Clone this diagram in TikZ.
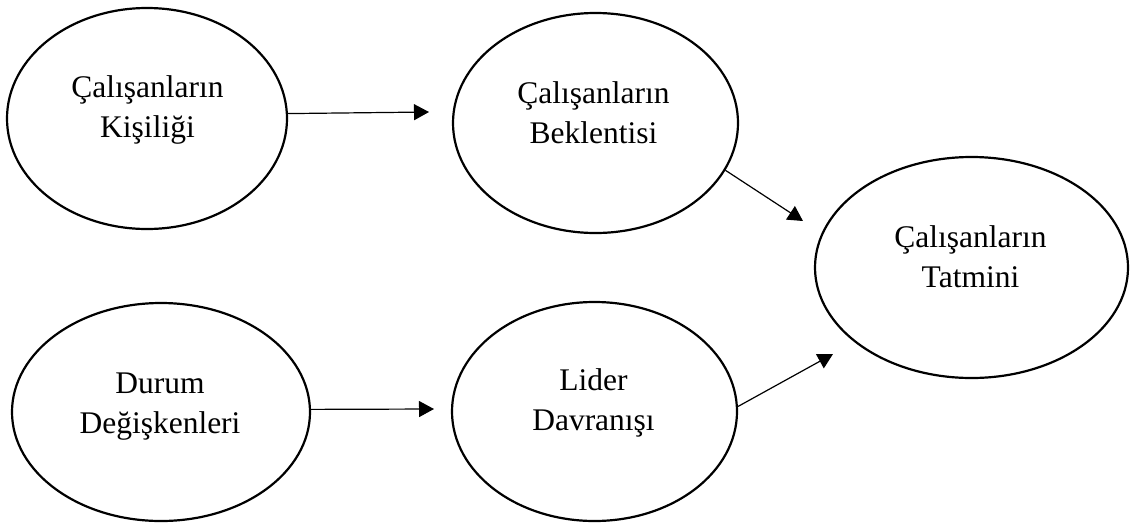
\documentclass[tikz,border=0pt]{standalone}
\usepackage{fontspec}
\setmainfont{Liberation Serif}
\usetikzlibrary{shapes.geometric,arrows.meta}
\begin{document}
\begin{tikzpicture}[x=1pt,y=-1pt,
  oval/.style={draw,ellipse,line width=2.2pt,inner sep=0pt},
  lbl/.style={align=center,anchor=base,inner sep=0pt,font=\fontsize{31.5}{40}\selectfont},
  link/.style={line width=1.2pt,-{Triangle[length=15pt,width=16pt]}}]
\useasboundingbox (0,0) rectangle (1132,528);
% ellipses
\node[oval,minimum width=280pt,minimum height=221pt] (k) at (147,118.5) {};
\node[oval,minimum width=285pt,minimum height=220pt] (b) at (595.5,123) {};
\node[oval,minimum width=313pt,minimum height=221pt] (t) at (971.5,267.5) {};
\node[oval,minimum width=298pt,minimum height=218pt] (d) at (161,412) {};
\node[oval,minimum width=285pt,minimum height=219pt] (l) at (594.5,411.5) {};
% labels (anchored at the baseline of the last line)
\node[lbl] (kt) at (147.5,137) {Çalışanların\\Kişiliği};
\node[lbl] (bt) at (593.5,143) {Çalışanların\\Beklentisi};
\node[lbl] (tt) at (970.5,287) {Çalışanların\\Tatmini};
\node[lbl] (dt) at (160,433) {Durum\\Değişkenleri};
\node[lbl] (lt) at (593.5,430) {Lider\\Davranışı};
% arrow tips
\coordinate (kb) at (429,112);
\coordinate (dl) at (434,409);
\coordinate (bt1) at (803,221);
\coordinate (lt1) at (833,354);
\draw[link] (k.2) -- (kb);
\draw[link] (d.1) -- (dl);
\draw[link] (b.-20) -- (bt1);
\draw[link] (l.2) -- (lt1);
\end{tikzpicture}
\end{document}
